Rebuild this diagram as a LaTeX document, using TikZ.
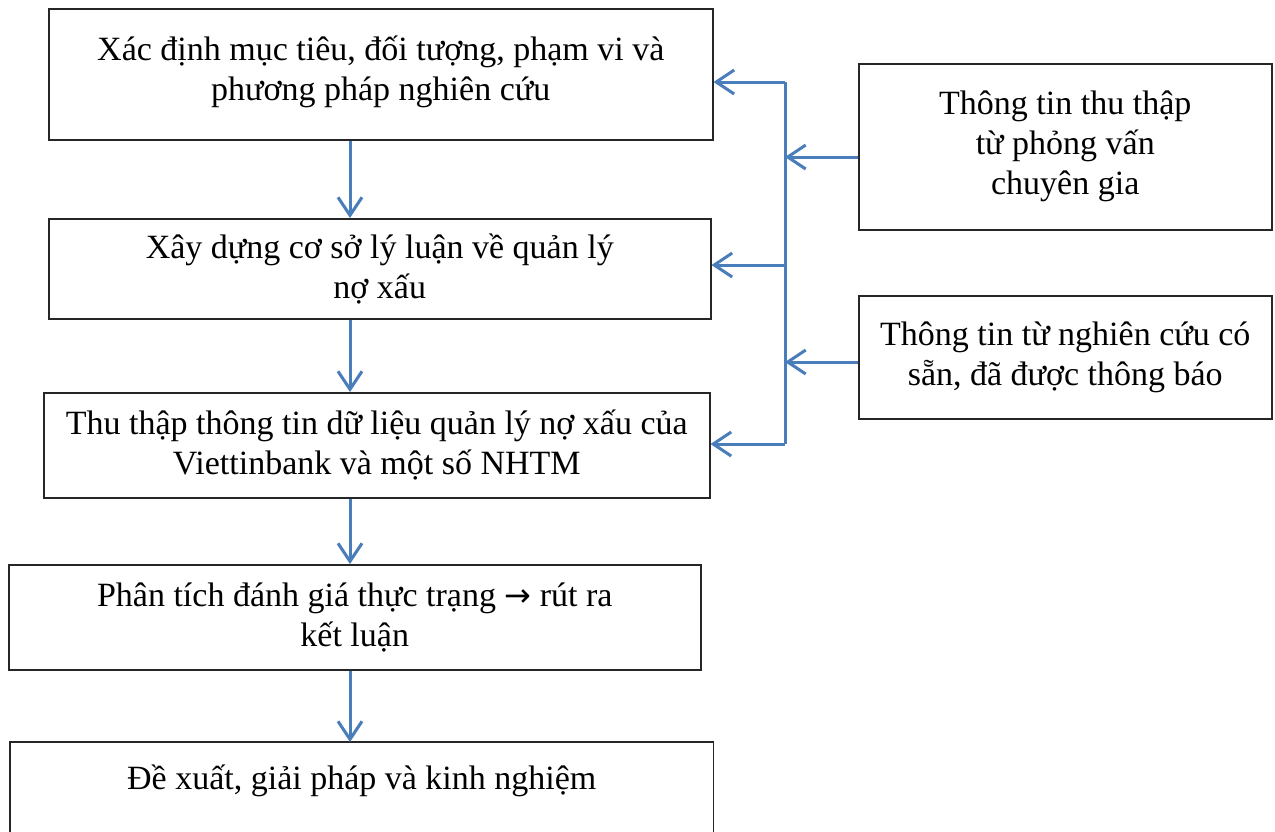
\documentclass[tikz,border=0pt]{standalone}
\usepackage{fontspec}
\setmainfont{Liberation Serif}
\newfontfamily\arrfont{DejaVu Sans}
\usetikzlibrary{arrows.meta,calc}
\definecolor{arrblue}{HTML}{4A7EBB}
\definecolor{boxgray}{HTML}{262626}
\begin{document}
\begin{tikzpicture}[x=1pt,y=-1pt,
  box/.style={draw=boxgray, line width=1.5pt, inner sep=0pt, align=center,
    font=\fontsize{34}{40}\selectfont, anchor=north west},
  boxline/.style={draw=boxgray, line width=1.5pt},
  arr/.style={draw=arrblue, line width=3pt, -{Straight Barb[length=18pt,width=24pt]}},
  bus/.style={draw=arrblue, line width=3pt}
  ]
\path[use as bounding box] (0,0) rectangle (1275,831);
\clip (0,0) rectangle (1275,831);

\node[box, minimum width=664, minimum height=131] (box1) at (48,8)
  {Xác định mục tiêu, đối tượng, phạm vi và\\phương pháp nghiên cứu\\[-28pt]};
\node[box, minimum width=662, minimum height=100] (box2) at (48,218)
  {Xây dựng cơ sở lý luận về quản lý\\nợ xấu};
\node[box, minimum width=666, minimum height=105] (box3) at (43,392)
  {Thu thập thông tin dữ liệu quản lý nợ xấu của\\Viettinbank và một số NHTM};
\node[box, minimum width=692, minimum height=105] (box4) at (8,564)
  {Phân tích đánh giá thực trạng {\arrfont\fontsize{32}{40}\selectfont→} rút ra\\kết luận};
\node[box, draw=none, minimum width=702, minimum height=76] (box5) at (10,742)
  {Đề xuất, giải pháp và kinh nghiệm};
\draw[boxline] ([yshift=-40pt]box5.south west) -- (box5.north west)
  -- (box5.north east) -- ([yshift=-40pt]box5.south east);

\node[box, minimum width=413, minimum height=166] (rbox1) at (858,63)
  {Thông tin thu thập\\từ phỏng vấn\\chuyên gia};
\node[box, minimum width=413, minimum height=123] (rbox2) at (858,295)
  {Thông tin từ nghiên cứu có\\sẵn, đã được thông báo};

% down arrows
\coordinate (ax) at (350,0);
\draw[arr] (box1.south -| ax) -- (box2.north -| ax);
\draw[arr] (box2.south -| ax) -- (box3.north -| ax);
\draw[arr] (box3.south -| ax) -- (box4.north -| ax);
\draw[arr] (box4.south -| ax) -- (box5.north -| ax);

% bus on the right
\coordinate (j1) at (785,82);
\coordinate (j2) at (785,265);
\coordinate (j3) at (785,444);
\coordinate (j4) at (785,157);
\coordinate (j5) at (785,362);
\draw[bus] (j1) -- (j3);
\draw[arr] (j1) -- (j1 -| box1.east);
\draw[arr] (j2) -- (j2 -| box2.east);
\draw[arr] (j3) -- (j3 -| box3.east);
\draw[arr] (j4 -| rbox1.west) -- (j4);
\draw[arr] (j5 -| rbox2.west) -- (j5);
\end{tikzpicture}
\end{document}
